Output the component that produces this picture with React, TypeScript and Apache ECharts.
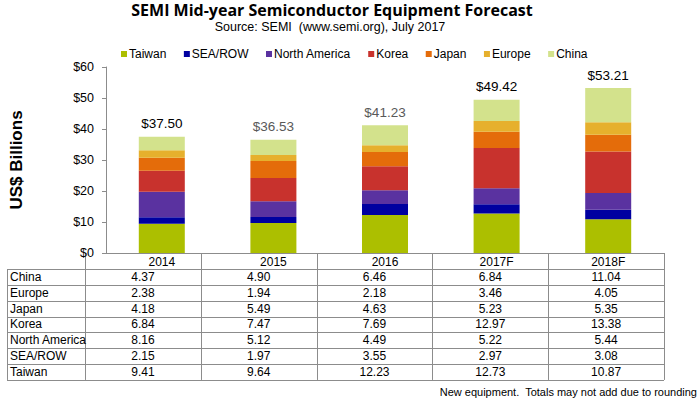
import React, { useEffect, useRef } from "react";
import * as echarts from "echarts";

const categories = ["2014", "2015", "2016", "2017F", "2018F"];
const regions = ["Taiwan", "SEA/ROW", "North America", "Korea", "Japan", "Europe", "China"];
const taiwan = [9.41, 9.64, 12.23, 12.73, 10.87];
const seaRow = [2.15, 1.97, 3.55, 2.97, 3.08];
const northAmerica = [8.16, 5.12, 4.49, 5.22, 5.44];
const korea = [6.84, 7.47, 7.69, 12.97, 13.38];
const japan = [4.18, 5.49, 4.63, 5.23, 5.35];
const europe = [2.38, 1.94, 2.18, 3.46, 4.05];
const china = [4.37, 4.9, 6.46, 6.84, 11.04];
const totals = [37.5, 36.53, 41.23, 49.42, 53.21];
const totalLabelColors = ["#000000", "#595959", "#595959", "#000000", "#000000"];
const colors = ["#acbf00", "#0000a0", "#5a32a0", "#c8322d", "#e46c0a", "#e6b02d", "#d3e28c"];

const seriesValues = [taiwan, seaRow, northAmerica, korea, japan, europe, china];

const W = 700;
const H = 399;
const GRID_LEFT = 85;
const GRID_RIGHT_X = 664;
const GRID_TOP = 67;
const GRID_BOTTOM_Y = 253;
const TABLE_LEFT = 7;
const HEADER_H = 16;
const ROW_H = 15.85;
const LINE_COLOR = "#8c8c8c";
const FONT = "Arial, 'Liberation Sans', sans-serif";

export default function App() {
  const ref = useRef<HTMLDivElement>(null);
  useEffect(() => {
    document.body.style.margin = "0";
    if (!ref.current) return;
    const chart = echarts.init(ref.current, null, { renderer: "svg" });

    const colW = (GRID_RIGHT_X - GRID_LEFT) / categories.length;
    const tableRows = regions.map((r, i) => ({ name: r, values: seriesValues[i] })).reverse();
    const rowsTop = GRID_BOTTOM_Y + HEADER_H;
    const tableBottom = rowsTop + ROW_H * tableRows.length;

    const graphics: any[] = [];
    for (let r = 0; r <= tableRows.length; r++) {
      const y = Math.round(rowsTop + r * ROW_H) + 0.5;
      graphics.push({
        type: "line",
        shape: { x1: TABLE_LEFT, y1: y, x2: GRID_RIGHT_X, y2: y },
        style: { stroke: LINE_COLOR, lineWidth: 1 },
        silent: true,
      });
    }
    graphics.push({
      type: "line",
      shape: { x1: TABLE_LEFT + 0.5, y1: rowsTop, x2: TABLE_LEFT + 0.5, y2: tableBottom },
      style: { stroke: LINE_COLOR, lineWidth: 1 },
      silent: true,
    });
    for (let c = 0; c <= categories.length; c++) {
      const x = Math.round(GRID_LEFT + c * colW) + 0.5;
      graphics.push({
        type: "line",
        shape: { x1: x, y1: GRID_BOTTOM_Y, x2: x, y2: tableBottom },
        style: { stroke: LINE_COLOR, lineWidth: 1 },
        silent: true,
      });
    }
    tableRows.forEach((row, r) => {
      const cy = rowsTop + (r + 0.5) * ROW_H;
      graphics.push({
        type: "text",
        x: TABLE_LEFT + 3,
        y: cy,
        style: { text: row.name, font: `12px ${FONT}`, fill: "#000", textVerticalAlign: "middle", textAlign: "left" },
        silent: true,
      });
      row.values.forEach((v, c) => {
        graphics.push({
          type: "text",
          x: GRID_LEFT + (c + 0.5) * colW,
          y: cy,
          style: { text: v.toFixed(2), font: `12px ${FONT}`, fill: "#000", textVerticalAlign: "middle", textAlign: "center" },
          silent: true,
        });
      });
    });
    graphics.push({
      type: "text",
      x: 697,
      y: 392,
      style: {
        text: "New equipment.  Totals may not add due to rounding",
        font: `11px ${FONT}`,
        fill: "#000",
        textAlign: "right",
        textVerticalAlign: "middle",
      },
      silent: true,
    });

    const series: any[] = regions.map((name, i) => ({
      name,
      type: "bar",
      stack: "total",
      barWidth: 46,
      data: seriesValues[i],
      itemStyle: { color: colors[i] },
      emphasis: { disabled: true },
    }));
    series[series.length - 1].label = {
      show: true,
      position: "top",
      distance: 6,
      fontFamily: FONT,
      fontSize: 13.5,
      formatter: (p: any) => "$" + totals[p.dataIndex].toFixed(2),
    };
    series[series.length - 1].data = china.map((v, i) => ({
      value: v,
      label: { color: totalLabelColors[i] },
    }));

    chart.setOption({
      animation: false,
      textStyle: { fontFamily: FONT },
      title: [
        {
          text: "SEMI Mid-year Semiconductor Equipment Forecast",
          left: 332,
          top: 1,
          padding: 0,
          textAlign: "center",
          textStyle: { fontFamily: "'Open Sans', sans-serif", fontWeight: "bold", fontSize: 16, lineHeight: 18, color: "#000" },
        },
        {
          text: "Source: SEMI  (www.semi.org), July 2017",
          left: 330,
          top: 20,
          padding: 0,
          textAlign: "center",
          textStyle: { fontFamily: FONT, fontWeight: "normal", fontSize: 12.5, lineHeight: 14, color: "#000" },
        },
      ],
      legend: {
        data: regions,
        left: 121,
        top: 48,
        padding: 0,
        icon: "rect",
        itemWidth: 6,
        itemHeight: 6,
        itemGap: 17.5,
        textStyle: { fontFamily: FONT, fontSize: 12, color: "#000", padding: [0, 0, 0, -3] },
        selectedMode: false,
      },
      grid: {
        left: GRID_LEFT,
        right: W - GRID_RIGHT_X,
        top: GRID_TOP,
        bottom: H - GRID_BOTTOM_Y,
        containLabel: false,
      },
      xAxis: {
        type: "category",
        data: categories,
        axisLine: { show: true, lineStyle: { color: LINE_COLOR } },
        axisTick: { show: false },
        axisLabel: { margin: 3, fontSize: 12, color: "#000", fontFamily: FONT },
      },
      yAxis: {
        type: "value",
        min: 0,
        max: 60,
        interval: 10,
        name: "US$ Billions",
        nameLocation: "middle",
        nameGap: 81,
        nameRotate: 90,
        nameTextStyle: { fontFamily: FONT, fontWeight: "bold", fontSize: 17, color: "#000" },
        axisLine: { show: true, lineStyle: { color: LINE_COLOR } },
        axisTick: { show: true, inside: false, length: 4, lineStyle: { color: LINE_COLOR } },
        axisLabel: {
          margin: 12,
          fontSize: 12.5,
          color: "#000",
          fontFamily: FONT,
          formatter: (v: number) => "$" + v,
        },
        splitLine: { show: false },
      },
      series,
      graphic: graphics,
    });
    return () => chart.dispose();
  }, []);
  return <div ref={ref} style={{ width: W, height: H }} />;
}
